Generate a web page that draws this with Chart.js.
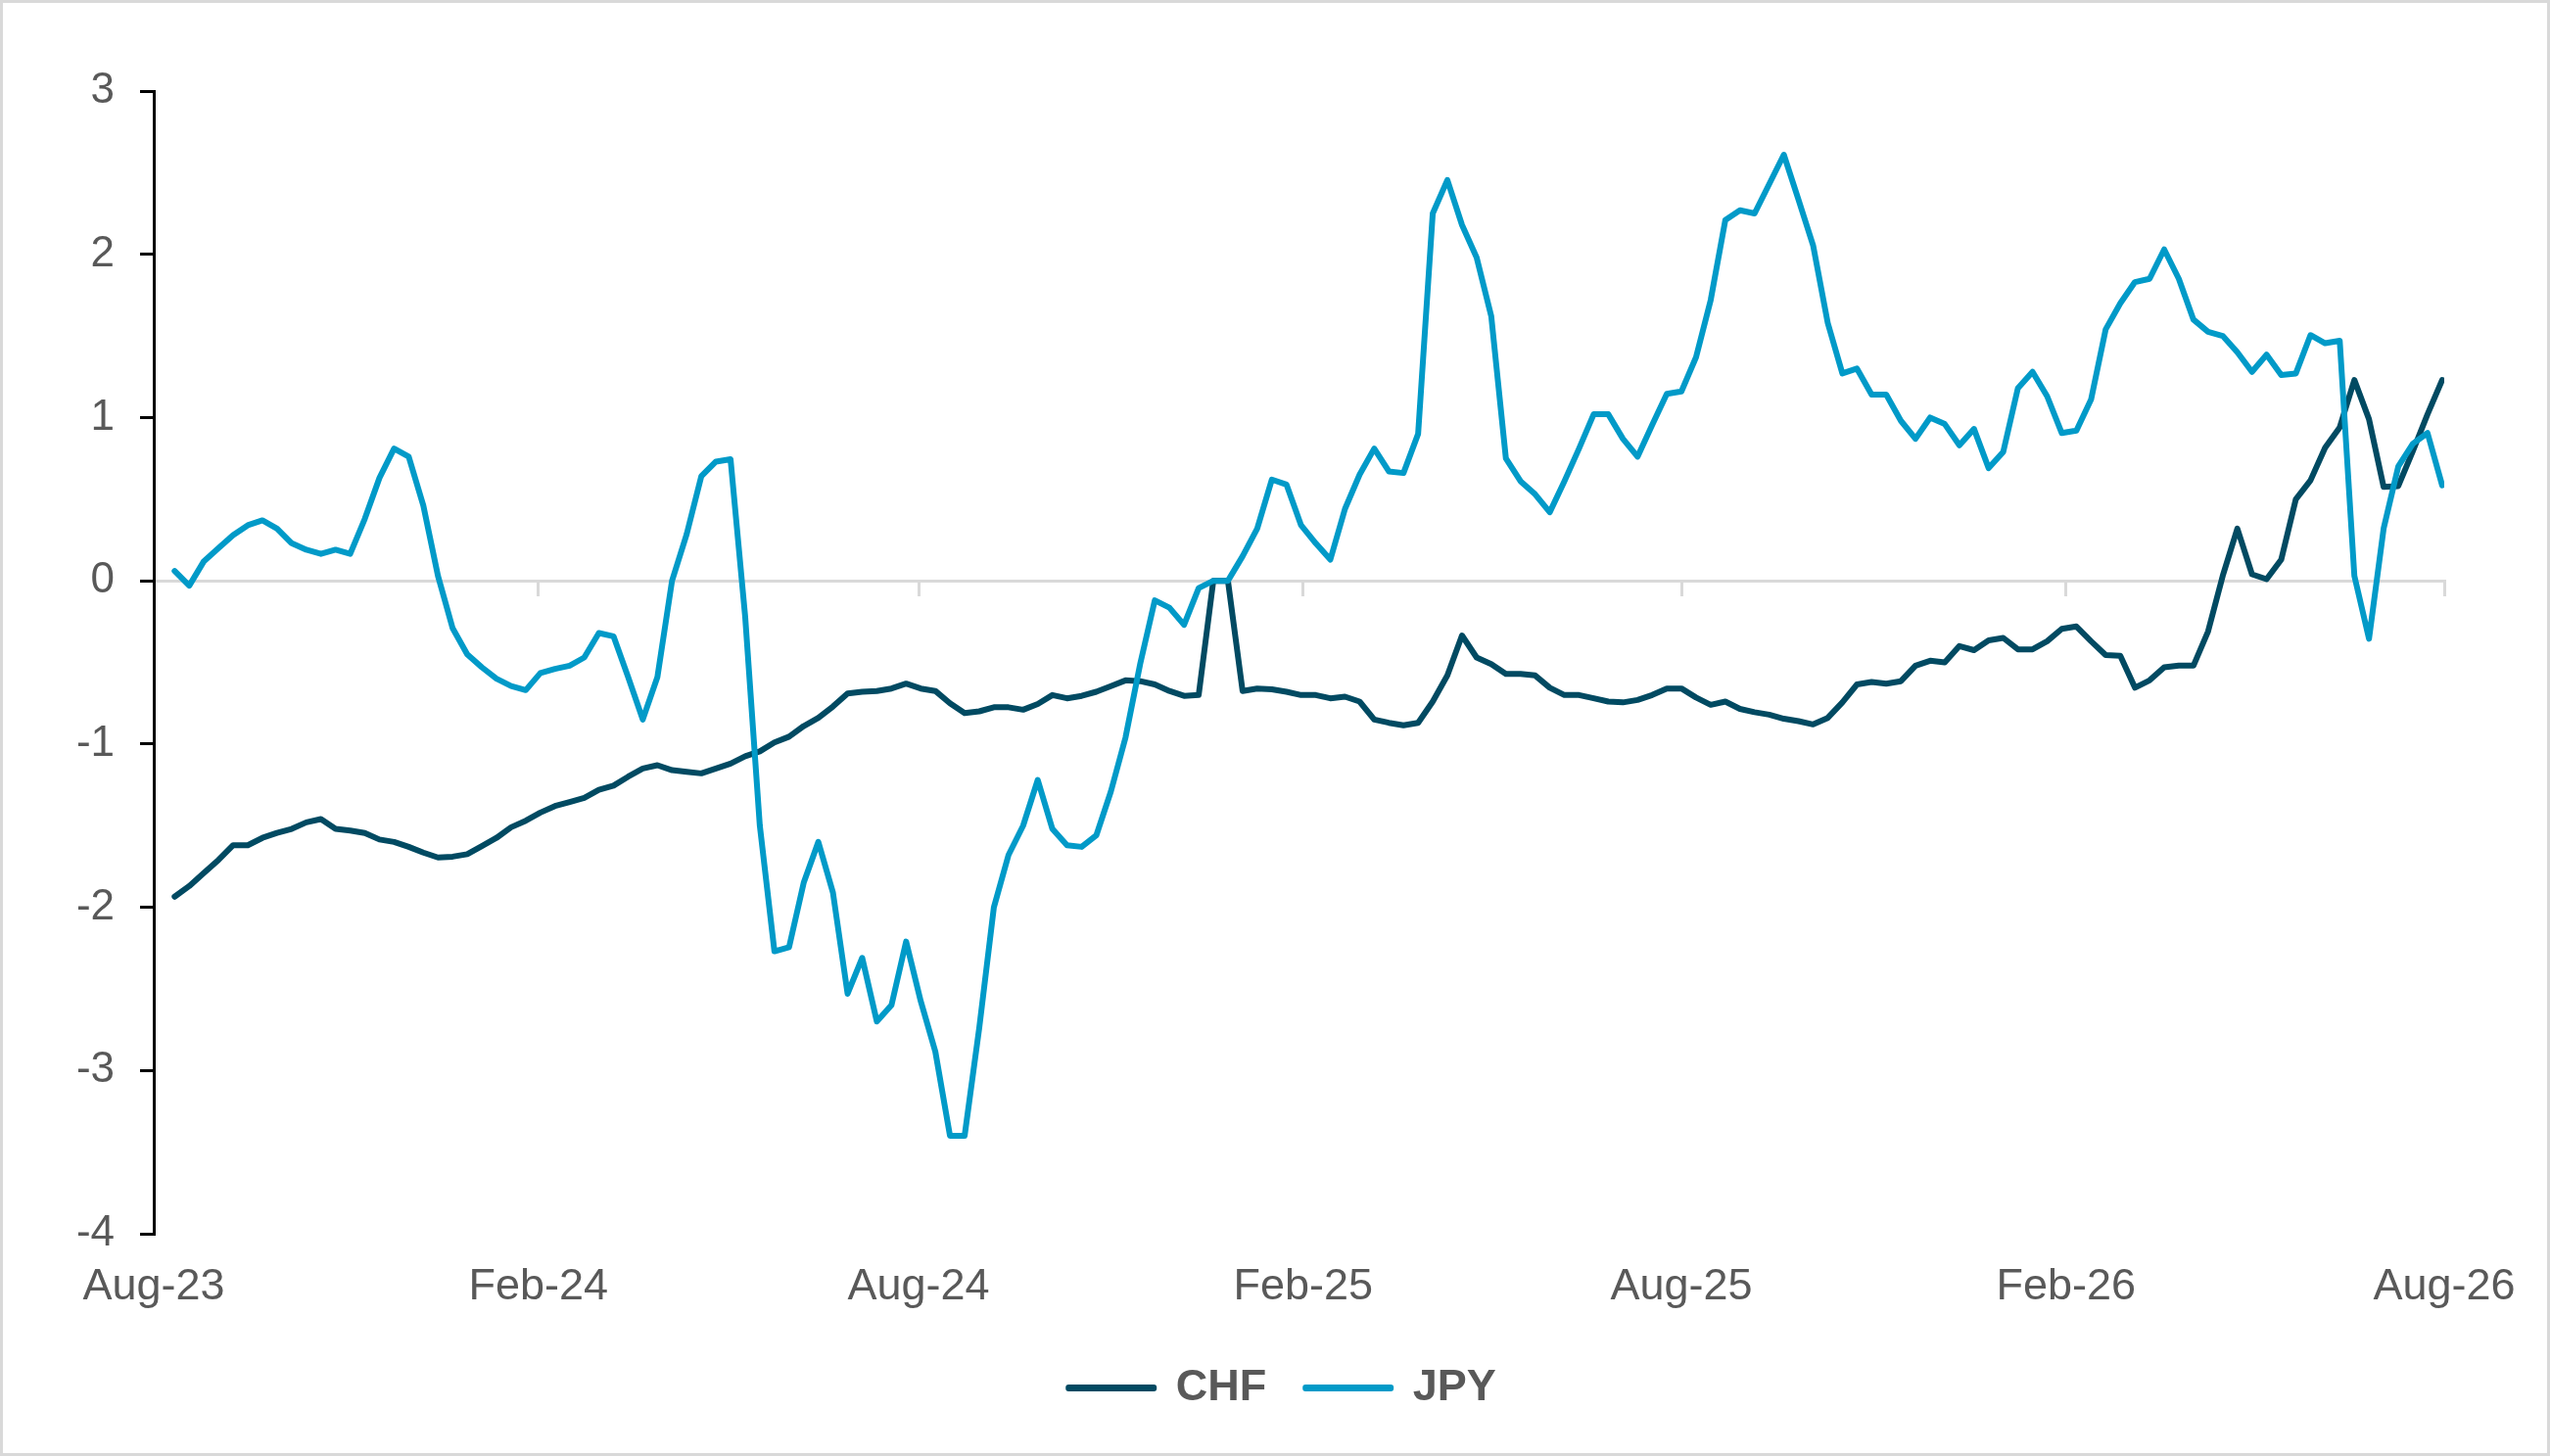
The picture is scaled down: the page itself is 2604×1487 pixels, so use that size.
<!DOCTYPE html>
<html>
<head>
<meta charset="utf-8">
<title>CHF vs JPY</title>
<script src="https://cdn.jsdelivr.net/npm/chart.js@4.4.1/dist/chart.umd.min.js"></script>
<style>
  html, body { margin: 0; padding: 0; background: #fff; }
  #chart_box { width: 2604px; height: 1487px; box-sizing: border-box; border: 3px solid #d9d9d9; background: #fff; }
  canvas { display: block; }
</style>
</head>
<body>
<div id="chart_box"><canvas id="myChart" width="2598" height="1481"></canvas></div>
<script>
// ******* DATA ******************

// weekly readings, first one on 11 Aug 2023
let firstWeek = '2023-08-11';

let chfValues = [
  -1.935, -1.87, -1.79, -1.71, -1.62, -1.62, -1.575, -1.545, -1.52, -1.48,
  -1.46, -1.52, -1.53, -1.545, -1.585, -1.60, -1.63, -1.665, -1.695, -1.69,
  -1.675, -1.625, -1.575, -1.51, -1.47, -1.42, -1.38, -1.355, -1.33, -1.28,
  -1.255, -1.20, -1.15, -1.13, -1.16, -1.17, -1.18, -1.15, -1.12, -1.075,
  -1.045, -0.99, -0.955, -0.89, -0.84, -0.77, -0.69, -0.68, -0.675, -0.66,
  -0.63, -0.66, -0.675, -0.75, -0.81, -0.80, -0.775, -0.775, -0.79, -0.755,
  -0.70, -0.72, -0.705, -0.68, -0.645, -0.61, -0.615, -0.635, -0.675, -0.705,
  -0.70, 0.0, 0.0, -0.675, -0.66, -0.665, -0.68, -0.70, -0.70, -0.72,
  -0.71, -0.74, -0.85, -0.87, -0.885, -0.87, -0.74, -0.58, -0.335, -0.47,
  -0.51, -0.57, -0.57, -0.58, -0.655, -0.70, -0.70, -0.72, -0.74, -0.745,
  -0.73, -0.70, -0.66, -0.66, -0.715, -0.76, -0.74, -0.785, -0.805, -0.82,
  -0.845, -0.86, -0.88, -0.84, -0.745, -0.635, -0.62, -0.63, -0.615, -0.52,
  -0.49, -0.50, -0.40, -0.425, -0.365, -0.35, -0.42, -0.42, -0.37, -0.295,
  -0.28, -0.37, -0.455, -0.46, -0.655, -0.61, -0.53, -0.52, -0.52, -0.31,
  0.03, 0.32, 0.04, 0.01, 0.13, 0.50, 0.615, 0.815, 0.94, 1.23,
  0.99, 0.575, 0.58, 0.795, 1.02, 1.23
];

let jpyValues = [
  0.06, -0.03, 0.12, 0.20, 0.28, 0.34, 0.37, 0.32, 0.23, 0.19,
  0.165, 0.19, 0.165, 0.38, 0.63, 0.81, 0.76, 0.46, 0.03, -0.29,
  -0.45, -0.53, -0.60, -0.645, -0.67, -0.565, -0.54, -0.52, -0.47, -0.32,
  -0.34, -0.59, -0.85, -0.59, 0.0, 0.285, 0.64, 0.73, 0.745, -0.22,
  -1.50, -2.27, -2.245, -1.85, -1.60, -1.91, -2.53, -2.31, -2.70, -2.60,
  -2.21, -2.575, -2.885, -3.40, -3.40, -2.74, -2.00, -1.68, -1.50, -1.22,
  -1.52, -1.62, -1.63, -1.56, -1.29, -0.96, -0.51, -0.12, -0.165, -0.27,
  -0.045, 0.0, 0.0, 0.15, 0.32, 0.62, 0.59, 0.34, 0.23, 0.13,
  0.44, 0.65, 0.81, 0.67, 0.66, 0.90, 2.25, 2.455, 2.18, 1.98,
  1.62, 0.75, 0.61, 0.53, 0.42, 0.61, 0.81, 1.02, 1.02, 0.87,
  0.76, 0.955, 1.145, 1.16, 1.37, 1.72, 2.21, 2.27, 2.25, 2.43,
  2.61, 2.335, 2.055, 1.58, 1.27, 1.30, 1.14, 1.14, 0.98, 0.87,
  1.00, 0.96, 0.83, 0.93, 0.69, 0.79, 1.18, 1.28, 1.13, 0.905,
  0.92, 1.11, 1.54, 1.70, 1.83, 1.85, 2.03, 1.85, 1.60, 1.525,
  1.50, 1.40, 1.28, 1.385, 1.26, 1.27, 1.505, 1.455, 1.47, 0.03,
  -0.355, 0.32, 0.70, 0.84, 0.905, 0.585
];

// x axis labels and the dates they sit on
let tickLabels = ['Aug-23', 'Feb-24', 'Aug-24', 'Feb-25', 'Aug-25', 'Feb-26', 'Aug-26'];
let tickDates  = ['2023-08-01', '2024-02-01', '2024-08-01', '2025-02-01', '2025-08-01', '2026-02-01', '2026-08-01'];

let yTicks = [-4, -3, -2, -1, 0, 1, 2, 3];

let seriesNames = ['CHF', 'JPY'];
let seriesColors = ['#014a62', '#019ac8'];


// ******* HELPERS ******************

let dayMs = 86400000;
let axisStart = Date.parse(tickDates[0] + 'T00:00:00Z');

function toDays(dateString){
  return Math.round((Date.parse(dateString + 'T00:00:00Z') - axisStart) / dayMs);
}

let tickDays = tickDates.map(toDays);
let axisEnd = tickDays[tickDays.length - 1];

// one point per week from the first reading
function makePoints(values){
  let start = toDays(firstWeek);
  let out = [];
  for (let i = 0; i < values.length; i++){
    out.push({ x: start + i * 7, y: values[i] });
  }
  return out;
}

function dateTicks(scale){
  scale.ticks = tickDays.map(v => ({ value: v }));
}

let fontFamily = "'Liberation Sans', Arial, sans-serif";
let textColor = '#595959';


// ******* CHART ******************

const data = {
  datasets: [{
    label: seriesNames[0],
    data: makePoints(chfValues),
    borderColor: seriesColors[0],
    backgroundColor: seriesColors[0],
    borderWidth: 6,
    borderJoinStyle: 'round',
    borderCapStyle: 'round',
    pointRadius: 0,
    tension: 0,
    order: 1
  },
  {
    label: seriesNames[1],
    data: makePoints(jpyValues),
    borderColor: seriesColors[1],
    backgroundColor: seriesColors[1],
    borderWidth: 6,
    borderJoinStyle: 'round',
    borderCapStyle: 'round',
    pointRadius: 0,
    tension: 0,
    order: 0
  }]
};

const config = {
  type: 'line',
  data: data,
  options: {
    responsive: false,
    animation: false,
    devicePixelRatio: 1,
    layout: {
      padding: { left: 60, right: 45, top: 90, bottom: 34 }
    },
    plugins: {
      tooltip: { enabled: false },
      legend: {
        position: 'bottom',
        labels: {
          color: textColor,
          font: { family: fontFamily, size: 45, weight: 'bold' },
          boxWidth: 87,
          boxHeight: 1,
          padding: 40,
          sort: (a, b) => a.datasetIndex - b.datasetIndex
        }
      }
    },
    scales: {
      x: {
        type: 'linear',
        min: 0,
        max: axisEnd,
        afterBuildTicks: dateTicks,
        // a bit of room under the labels before the legend
        afterFit: function(scale){
          scale.height = 95;
        },
        grid: { display: false, drawTicks: false },
        border: { display: false },
        ticks: {
          autoSkip: false,
          maxRotation: 0,
          padding: 28,
          color: textColor,
          font: { family: fontFamily, size: 45 },
          callback: function(value){
            let idx = tickDays.indexOf(value);
            return idx === -1 ? '' : tickLabels[idx];
          }
        }
      },
      // the grey zero line with its little date ticks
      x2: {
        axis: 'x',
        type: 'linear',
        position: { y: 0 },
        min: 0,
        max: axisEnd,
        afterBuildTicks: dateTicks,
        ticks: { display: false },
        grid: { drawOnChartArea: false, color: '#d9d9d9', lineWidth: 3, tickLength: 14 },
        border: { color: '#d9d9d9', width: 3 }
      },
      y: {
        min: yTicks[0],
        max: yTicks[yTicks.length - 1],
        afterBuildTicks: function(scale){
          scale.ticks = yTicks.map(v => ({ value: v }));
        },
        afterFit: function(scale){
          scale.width = 94;
        },
        grid: { drawOnChartArea: false, color: '#000', lineWidth: 3, tickLength: 14 },
        border: { color: '#000', width: 3 },
        ticks: {
          padding: 26,
          color: textColor,
          font: { family: fontFamily, size: 44 },
          callback: value => String(value)
        }
      },
      // empty right side strip, keeps the legend centred like the original
      yRight: {
        axis: 'y',
        position: 'right',
        afterFit: function(scale){
          scale.width = 60;
        },
        grid: { display: false },
        border: { display: false },
        ticks: { display: false }
      }
    }
  }
};

let canvasChart = document.getElementById('myChart');
const myChart = new Chart(canvasChart, config);
</script>
</body>
</html>
